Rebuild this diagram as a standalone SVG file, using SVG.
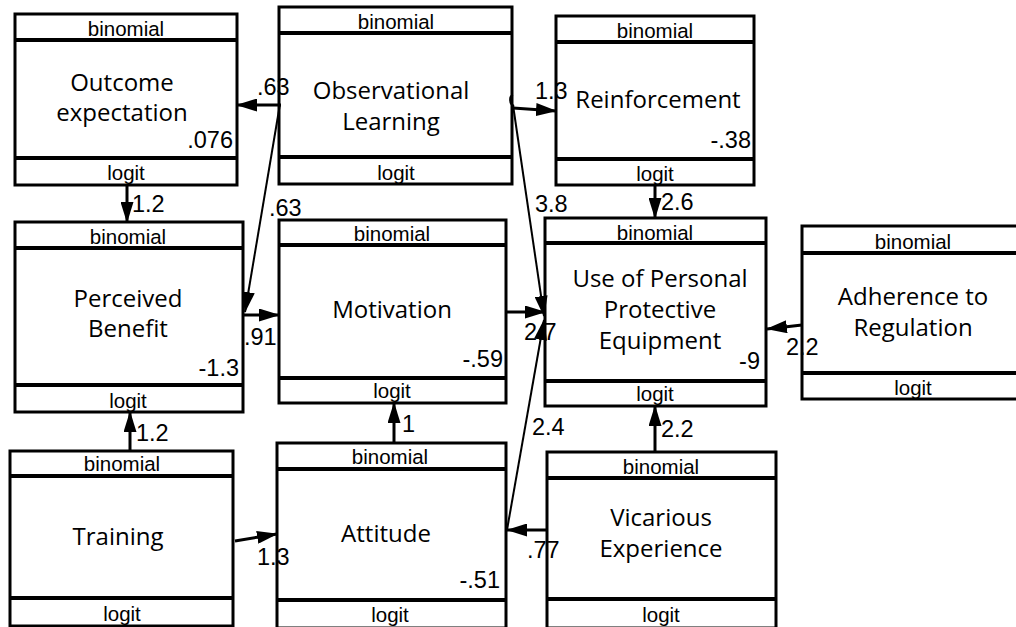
<svg xmlns="http://www.w3.org/2000/svg" width="1016" height="627" viewBox="0 0 1016 627">
<style>
.box{fill:#fff;stroke:#000;stroke-width:3}
.sep{stroke:#000;stroke-width:4}
.sm{font-family:"Liberation Sans",Arial,sans-serif;font-size:20.5px;fill:#000;text-anchor:middle}
.lb{font-family:"Open Sans","Noto Sans",sans-serif;font-size:24px;fill:#000;text-anchor:middle}
.num{font-family:"Liberation Sans",Arial,sans-serif;font-size:23.5px;fill:#000}
.r{text-anchor:end}
.c{fill:none;stroke:#000;stroke-width:3}
.d{fill:none;stroke:#000;stroke-width:2}
</style>
<defs>
<marker id="ah" markerUnits="userSpaceOnUse" markerWidth="21" markerHeight="13" refX="20" refY="6.5" orient="auto">
<path d="M0,0 L21,6.5 L0,13 z" fill="#000"/>
</marker>
</defs>
<rect width="1016" height="627" fill="#fff"/>
<g id="nodes">
<g id="outcome">
<rect class="box" x="15" y="14" width="222" height="171"/>
<line class="sep" x1="15" y1="40" x2="237" y2="40"/>
<line class="sep" x1="15" y1="158" x2="237" y2="158"/>
<text class="sm" x="126" y="36">binomial</text>
<text class="lb" x="122" y="91">Outcome</text>
<text class="lb" x="122" y="121">expectation</text>
<text class="num r" x="233" y="148">.076</text>
<text class="sm" x="126" y="180">logit</text>
</g>
<g id="observational">
<rect class="box" x="279" y="7" width="233" height="177"/>
<line class="sep" x1="279" y1="33" x2="512" y2="33"/>
<line class="sep" x1="279" y1="157" x2="512" y2="157"/>
<text class="sm" x="396" y="29">binomial</text>
<text class="lb" x="391" y="99">Observational</text>
<text class="lb" x="391" y="130">Learning</text>
<text class="sm" x="396" y="180">logit</text>
</g>
<g id="reinforcement">
<rect class="box" x="556" y="16" width="198" height="169"/>
<line class="sep" x1="556" y1="42" x2="754" y2="42"/>
<line class="sep" x1="556" y1="159" x2="754" y2="159"/>
<text class="sm" x="655" y="38">binomial</text>
<text class="lb" x="658" y="108">Reinforcement</text>
<text class="num r" x="751" y="148">-.38</text>
<text class="sm" x="655" y="181">logit</text>
</g>
<g id="perceived">
<rect class="box" x="15" y="222" width="228" height="190"/>
<line class="sep" x1="15" y1="248" x2="243" y2="248"/>
<line class="sep" x1="15" y1="385" x2="243" y2="385"/>
<text class="sm" x="128" y="244">binomial</text>
<text class="lb" x="128" y="307">Perceived</text>
<text class="lb" x="128" y="337">Benefit</text>
<text class="num r" x="239" y="376">-1.3</text>
<text class="sm" x="128" y="408">logit</text>
</g>
<g id="motivation">
<rect class="box" x="279" y="220" width="227" height="183"/>
<line class="sep" x1="279" y1="245" x2="506" y2="245"/>
<line class="sep" x1="279" y1="378" x2="506" y2="378"/>
<text class="sm" x="392" y="241">binomial</text>
<text class="lb" x="392" y="318">Motivation</text>
<text class="num r" x="503" y="367">-.59</text>
<text class="sm" x="392" y="398">logit</text>
</g>
<g id="ppe">
<rect class="box" x="545" y="218" width="221" height="188"/>
<line class="sep" x1="545" y1="243" x2="766" y2="243"/>
<line class="sep" x1="545" y1="381" x2="766" y2="381"/>
<text class="sm" x="655" y="240">binomial</text>
<text class="lb" x="660" y="287">Use of Personal</text>
<text class="lb" x="660" y="318">Protective</text>
<text class="lb" x="660" y="349">Equipment</text>
<text class="num r" x="760" y="369">-9</text>
<text class="sm" x="655" y="401">logit</text>
</g>
<g id="adherence">
<rect class="box" x="802" y="226" width="222" height="173"/>
<line class="sep" x1="802" y1="253" x2="1024" y2="253"/>
<line class="sep" x1="802" y1="373" x2="1024" y2="373"/>
<text class="sm" x="913" y="249">binomial</text>
<text class="lb" x="913" y="305">Adherence to</text>
<text class="lb" x="913" y="336">Regulation</text>
<text class="sm" x="913" y="395">logit</text>
</g>
<g id="training">
<rect class="box" x="10" y="451" width="223" height="175"/>
<line class="sep" x1="10" y1="476" x2="233" y2="476"/>
<line class="sep" x1="10" y1="598" x2="233" y2="598"/>
<text class="sm" x="122" y="471">binomial</text>
<text class="lb" x="118" y="545">Training</text>
<text class="sm" x="122" y="621">logit</text>
</g>
<g id="attitude">
<rect class="box" x="277" y="443" width="229" height="185"/>
<line class="sep" x1="277" y1="469" x2="506" y2="469"/>
<line class="sep" x1="277" y1="600" x2="506" y2="600"/>
<text class="sm" x="390" y="464">binomial</text>
<text class="lb" x="386" y="542">Attitude</text>
<text class="num r" x="500" y="588">-.51</text>
<text class="sm" x="390" y="622">logit</text>
</g>
<g id="vicarious">
<rect class="box" x="547" y="452" width="229" height="176"/>
<line class="sep" x1="547" y1="478" x2="776" y2="478"/>
<line class="sep" x1="547" y1="599" x2="776" y2="599"/>
<text class="sm" x="661" y="474">binomial</text>
<text class="lb" x="661" y="526">Vicarious</text>
<text class="lb" x="661" y="557">Experience</text>
<text class="sm" x="661" y="622">logit</text>
</g>
</g>
<g id="connectors">
<line class="c" x1="281" y1="105" x2="237" y2="105" marker-end="url(#ah)"/>
<line class="d" x1="280" y1="104" x2="245" y2="312" marker-end="url(#ah)"/>
<line class="c" x1="244" y1="315" x2="279" y2="315" marker-end="url(#ah)"/>
<path class="d" d="M514,106 C509,104 509,96 513,95"/>
<line class="c" x1="513" y1="108" x2="556" y2="111" marker-end="url(#ah)"/>
<line class="d" x1="513" y1="105" x2="544" y2="316" marker-end="url(#ah)"/>
<line class="c" x1="506" y1="312" x2="545" y2="312" marker-end="url(#ah)"/>
<line class="d" x1="507" y1="530" x2="544" y2="320" marker-end="url(#ah)"/>
<line class="c" x1="655" y1="185" x2="655" y2="218" marker-end="url(#ah)"/>
<line class="c" x1="802" y1="325" x2="767" y2="329" marker-end="url(#ah)"/>
<line class="c" x1="655" y1="452" x2="655" y2="406" marker-end="url(#ah)"/>
<line class="c" x1="547" y1="530" x2="507" y2="530" marker-end="url(#ah)"/>
<line class="c" x1="235" y1="541" x2="277" y2="534" marker-end="url(#ah)"/>
<line class="c" x1="394" y1="443" x2="394" y2="403" marker-end="url(#ah)"/>
<line class="c" x1="130" y1="451" x2="130" y2="412" marker-end="url(#ah)"/>
<line class="c" x1="127" y1="185" x2="127" y2="222" marker-end="url(#ah)"/>
</g>
<g id="edge-labels">
<text class="num" x="257" y="95">.63</text>
<text class="num" x="269" y="216">.63</text>
<text class="num" x="244" y="345">.91</text>
<text class="num" x="535" y="99">1.3</text>
<text class="num" x="535" y="212">3.8</text>
<text class="num" x="661" y="210">2.6</text>
<text class="num" x="524" y="340">2.7</text>
<text class="num" x="786" y="355">2.2</text>
<text class="num" x="532" y="435">2.4</text>
<text class="num" x="661" y="437">2.2</text>
<text class="num" x="136" y="441">1.2</text>
<text class="num" x="132" y="212">1.2</text>
<text class="num" x="257" y="565">1.3</text>
<text class="num" x="402" y="432">1</text>
<text class="num" x="527" y="558">.77</text>
</g>
</svg>
